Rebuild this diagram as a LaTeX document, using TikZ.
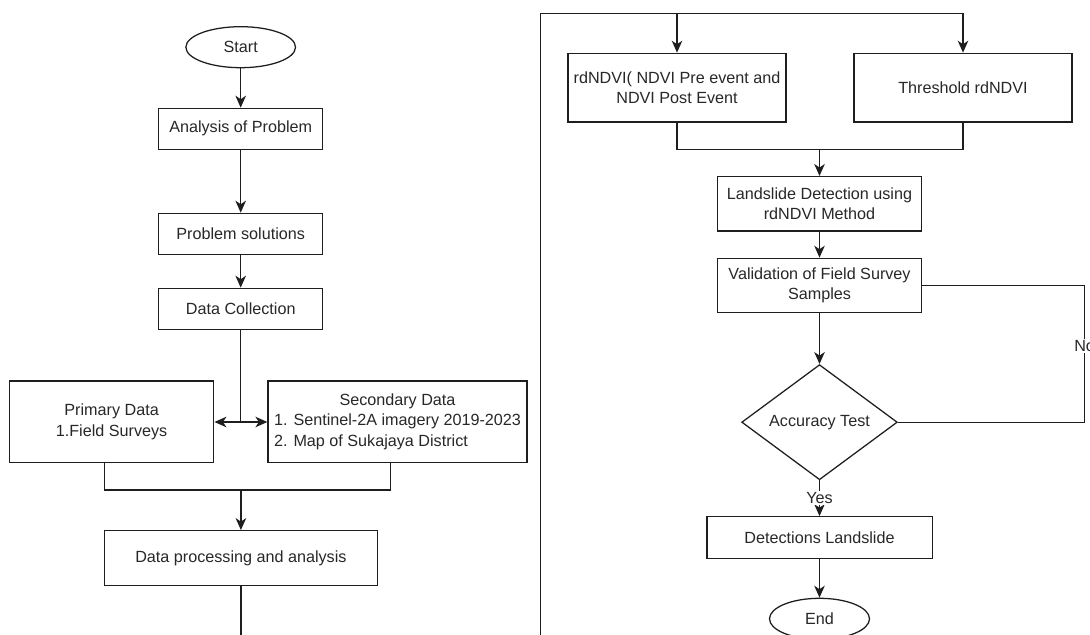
\documentclass[tikz,border=0pt]{standalone}
\usepackage{fontspec}
\setmainfont{Liberation Sans}
\usepackage{xcolor}
\usepackage{tikz}
\usetikzlibrary{positioning, shapes.geometric, calc, arrows.meta}
\definecolor{flowLine}{RGB}{30, 30, 30}
\definecolor{flowText}{RGB}{40, 40, 40}
\tikzset{
    base/.style={
        font=\fontsize{11.5}{14.5}\selectfont,
        align=center,
        text=flowText
    },
    process/.style={
        base,
        rectangle,
        draw=flowLine,
        line width=0.9pt,
        fill=white,
        inner sep=1mm
    },
    terminal/.style={
        base,
        ellipse,
        draw=flowLine,
        line width=0.9pt,
        fill=white,
        inner sep=0pt
    },
    decision/.style={
        base,
        diamond,
        draw=flowLine,
        line width=0.9pt,
        fill=white,
        inner sep=0pt
    },
    flow/.style={
        -{Stealth[length=8.5pt, width=7.5pt, inset=2.5pt]},
        line width=0.9pt,
        color=flowLine
    },
    link/.style={
        line width=0.9pt,
        color=flowLine
    },
    tag/.style={
        base,
        fill=white,
        inner sep=1pt
    }
}

\begin{document}
\begin{tikzpicture}[x=0.025cm, y=-0.025cm]
  \useasboundingbox (0,0) rectangle (1090,635);

  % Left column
  \node[terminal, minimum width=2.74cm, minimum height=1.025cm] (start) at (240.7,47.2) {Start};
  \node[process, minimum width=4.1cm, minimum height=1.025cm] (analysis) at (240.7,128.8) {Analysis of Problem};
  \node[process, minimum width=4.1cm, minimum height=1.025cm] (solutions) at (240.7,233.8) {Problem solutions};
  \node[process, minimum width=4.1cm, minimum height=1.025cm] (collection) at (240.7,308.8) {Data Collection};
  \node[process, minimum width=5.11cm, minimum height=2.04cm] (primary) at (111.6,421.8) {Primary Data\\1.Field Surveys};
  \node[process, minimum width=6.475cm, minimum height=2.04cm] (secondary) at (397.5,421.8)
    {\begin{tabular}{@{}l@{}}\multicolumn{1}{@{}c@{}}{Secondary Data}\\1. Sentinel-2A imagery 2019-2023\\2. Map of Sukajaya District\end{tabular}};
  \node[process, minimum width=6.81cm, minimum height=1.365cm] (processing) at (240.9,558) {Data processing and analysis};

  % Right column
  \node[process, minimum width=5.45cm, minimum height=1.72cm] (rdndvi) at (677,87.7) {rdNDVI( NDVI Pre event and\\NDVI Post Event};
  \node[process, minimum width=5.45cm, minimum height=1.72cm] (threshold) at (963,87.7) {Threshold rdNDVI};
  \node[process, minimum width=5.11cm, minimum height=1.36cm] (detection) at (819.5,203.8) {Landslide Detection using\\rdNDVI Method};
  \node[process, minimum width=5.11cm, minimum height=1.36cm] (validation) at (819.5,285.5) {Validation of Field Survey\\Samples};
  \node[decision, minimum width=3.89cm, minimum height=2.025cm] (accuracy) at (819.5,422.2) {Accuracy Test};
  \node[process, minimum width=5.63cm, minimum height=1.04cm] (detections) at (819.5,537.5) {Detections Landslide};
  \node[terminal, minimum width=2.5cm, minimum height=1.025cm] (end) at (819.5,618.8) {End};

  % Junctions
  \coordinate (split) at (240.7,422);
  \coordinate (joinL) at (104.6,490);
  \coordinate (joinR) at (390.7,490);
  \coordinate (cutL) at (240.9,640);
  \coordinate (cutR) at (540.5,640);
  \coordinate (top) at (540.5,13.3);
  \coordinate (merge) at (819.5,149.3);
  \coordinate (loopR) at (1084.6,0);

  % Edges
  \draw[flow] (start) -- (analysis);
  \draw[flow] (analysis) -- (solutions);
  \draw[flow] (solutions) -- (collection);
  \draw[link] (collection) -- (split);
  \draw[flow] (split) -- (split -| primary.east);
  \draw[flow] (split) -- (split -| secondary.west);
  \draw[link] (primary.south -| joinL) -- (joinL) -- (joinR) -- (secondary.south -| joinR);
  \draw[flow] (joinL -| processing) -- (processing);
  \draw[link] (processing) -- (cutL);

  \draw[link] (cutR) -- (top) -- (threshold |- top);
  \draw[flow] (rdndvi |- top) -- (rdndvi);
  \draw[flow] (threshold |- top) -- (threshold);
  \draw[link] (rdndvi) -- (rdndvi |- merge) -- (threshold |- merge) -- (threshold);
  \draw[flow] (merge) -- (detection);
  \draw[flow] (detection) -- (validation);
  \draw[flow] (validation) -- (accuracy);
  \draw[flow] (accuracy) -- node[tag] {Yes} (detections);
  \draw[flow] (detections) -- (end);
  \draw[link] (validation.east) -- (validation.east -| loopR)
    -- node[tag, pos=0.44] {No} (accuracy.east -| loopR) -- (accuracy.east);
\end{tikzpicture}
\end{document}
